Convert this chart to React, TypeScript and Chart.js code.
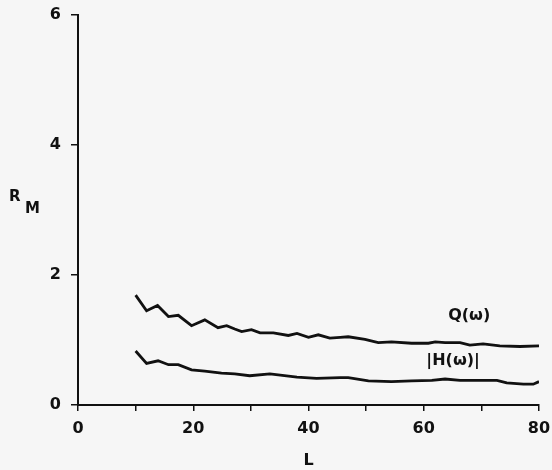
import React, { useEffect, useRef } from "react";
import { Chart, registerables } from "chart.js";

Chart.register(...registerables);

// Q(ω) curve: window length L vs. R_M
const qL = [10, 11.9, 13.8, 15.7, 17.4, 19.7, 22.0, 24.3, 25.8, 27.2, 28.4, 30.1, 31.6, 33.9, 36.5, 38.0, 40.0, 41.7, 43.7, 45.5, 46.9, 49.8, 52.1, 54.4, 57.9, 60.8, 62.0, 63.7, 66.3, 68.0, 70.3, 73.2, 76.7, 80];
const qR = [1.69, 1.45, 1.53, 1.36, 1.38, 1.22, 1.31, 1.19, 1.22, 1.17, 1.13, 1.16, 1.11, 1.11, 1.07, 1.10, 1.04, 1.08, 1.03, 1.04, 1.05, 1.01, 0.96, 0.97, 0.95, 0.95, 0.97, 0.96, 0.96, 0.92, 0.94, 0.91, 0.90, 0.91];

// |H(ω)| curve
const hL = [10, 11.9, 13.9, 15.7, 17.4, 19.7, 22.0, 24.9, 27.2, 29.8, 33.3, 38.0, 41.4, 45.5, 46.9, 50.4, 54.4, 57.9, 61.4, 63.7, 66.3, 69.8, 72.7, 74.4, 77.3, 79.0, 80];
const hR = [0.83, 0.64, 0.68, 0.62, 0.62, 0.54, 0.52, 0.49, 0.48, 0.45, 0.48, 0.43, 0.41, 0.42, 0.42, 0.37, 0.36, 0.37, 0.38, 0.40, 0.38, 0.38, 0.38, 0.34, 0.32, 0.32, 0.36];

const xTicks = [0, 10, 20, 30, 40, 50, 60, 70, 80];
const xLabeled = [0, 20, 40, 60, 80];
const yTicks = [0, 2, 4, 6];

// curve annotations placed in data coordinates
const curveLabels = [
  { text: "Q(\u03c9)", x: 67.9, y: 1.37 },
  { text: "|H(\u03c9)|", x: 65.1, y: 0.68 },
];

const INK = "#111111";
const FONT = "'DejaVu Sans', sans-serif";

export default function App() {
  const ref = useRef<HTMLCanvasElement | null>(null);

  useEffect(() => {
    if (!ref.current) return;

    const annotate = {
      id: "annotate",
      afterDraw(chart: any) {
        const { ctx, scales } = chart;
        ctx.save();
        ctx.fillStyle = INK;
        ctx.textBaseline = "middle";
        ctx.textAlign = "center";
        ctx.font = `bold 16px ${FONT}`;
        for (const l of curveLabels) {
          ctx.fillText(l.text, scales.x.getPixelForValue(l.x), scales.y.getPixelForValue(l.y));
        }
        // axis title R with subscript M
        ctx.textAlign = "left";
        ctx.font = `bold 15px ${FONT}`;
        ctx.fillText("R", 9, 197);
        ctx.fillText("M", 25, 209);
        ctx.restore();
      },
    };

    const chart = new Chart(ref.current, {
      type: "line",
      data: {
        datasets: [
          {
            label: "Q(\u03c9)",
            data: qL.map((x, i) => ({ x, y: qR[i] })),
            borderColor: INK,
            borderWidth: 2.8,
            pointRadius: 0,
            tension: 0,
          },
          {
            label: "|H(\u03c9)|",
            data: hL.map((x, i) => ({ x, y: hR[i] })),
            borderColor: INK,
            borderWidth: 2.8,
            pointRadius: 0,
            tension: 0,
          },
        ],
      },
      options: {
        animation: false,
        responsive: false,
        layout: { padding: 0 },
        plugins: { legend: { display: false }, tooltip: { enabled: false } },
        scales: {
          x: {
            type: "linear",
            min: 0,
            max: 80,
            afterBuildTicks(axis: any) {
              axis.ticks = xTicks.map((v) => ({ value: v }));
            },
            afterFit(axis: any) {
              axis.height = 65;
              axis.paddingLeft = 0;
              axis.paddingRight = 13;
            },
            border: { color: INK, width: 2 },
            grid: { drawOnChartArea: false, drawTicks: true, tickLength: 6, color: INK, lineWidth: 1.5 },
            ticks: {
              color: INK,
              padding: 8,
              font: { family: FONT, size: 16, weight: "bold" },
              callback: (v: any) => (xLabeled.includes(Number(v)) ? String(v) : ""),
              maxRotation: 0,
              autoSkip: false,
            },
            title: {
              display: true,
              text: "L",
              color: INK,
              font: { family: FONT, size: 16, weight: "bold" },
              padding: { top: 8, bottom: 0 },
            },
          },
          y: {
            type: "linear",
            min: 0,
            max: 6,
            afterBuildTicks(axis: any) {
              axis.ticks = yTicks.map((v) => ({ value: v }));
            },
            afterFit(axis: any) {
              axis.width = 78;
              axis.paddingTop = 15;
              axis.paddingBottom = 0;
            },
            border: { color: INK, width: 2 },
            grid: { drawOnChartArea: false, drawTicks: true, tickLength: 7, color: INK, lineWidth: 1.5 },
            ticks: {
              color: INK,
              padding: 10,
              font: { family: FONT, size: 16, weight: "bold" },
            },
          },
        },
      },
      plugins: [annotate],
    });

    return () => chart.destroy();
  }, []);

  return (
    <div style={{ position: "fixed", left: 0, top: 0, width: 552, height: 470, background: "#f6f6f6" }}>
      <canvas ref={ref} width={552} height={470} style={{ display: "block" }} />
    </div>
  );
}
